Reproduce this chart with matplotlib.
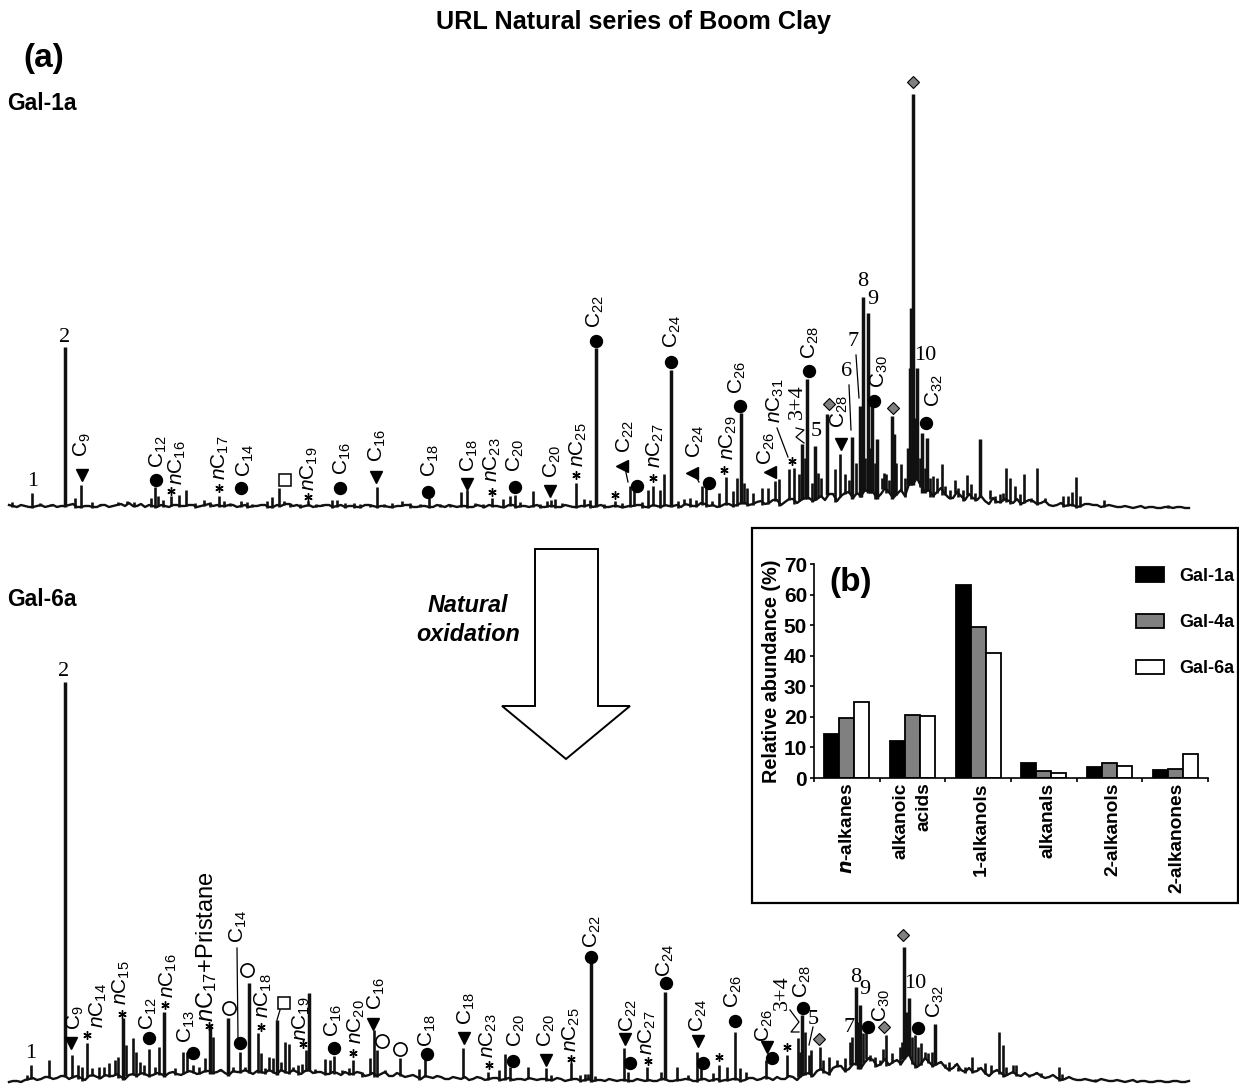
import numpy as np
import matplotlib
matplotlib.use('Agg')
import matplotlib.pyplot as plt
from matplotlib.patches import Polygon

plt.rcParams['font.family'] = ['Liberation Sans', 'DejaVu Sans']
plt.rcParams['mathtext.fontset'] = 'custom'
plt.rcParams['mathtext.rm'] = 'Liberation Sans'
plt.rcParams['mathtext.it'] = 'Liberation Sans:italic'
plt.rcParams['mathtext.bf'] = 'Liberation Sans:bold'

# chromatogram a (Gal-1a): retention position, peak height
peak_x_a = [32, 65, 75, 81, 92, 127, 151, 155, 158, 171, 179, 186, 204, 219, 224, 241, 247, 267, 272, 279,
            284, 308, 316, 332, 337, 354, 370, 377, 402, 429, 461, 467, 492, 503, 510, 515, 533, 547, 551, 555,
            576, 584, 596, 615, 630, 634, 648, 653, 660, 664, 671, 678, 684, 690, 702, 706, 719, 726, 733, 741,
            747, 753, 762, 768, 775, 779, 789, 794, 802, 807, 815, 821, 827, 835, 840, 845, 852, 860, 863, 868,
            872, 877, 886, 892, 894, 901, 910, 913, 917, 922, 927, 937, 942, 955, 967, 971, 980, 1000, 1006, 1010,
            1024, 1031, 1037, 1063, 1068, 1076, 1104, 1168]
peak_y_a = [15, 161, 10, 23, 6, 7, 10, 21, 12, 12, 13, 18, 8, 12, 7, 7, 6, 7, 11, 20,
            7, 7, 4, 8, 8, 5, 4, 21, 7, 10, 16, 18, 10, 9, 12, 13, 17, 7, 8, 9,
            25, 9, 160, 7, 22, 18, 18, 22, 18, 34, 138, 7, 9, 10, 22, 24, 15, 31, 17, 95,
            20, 15, 20, 20, 27, 29, 39, 40, 64, 129, 62, 30, 94, 39, 54, 34, 71, 102, 211, 195,
            104, 69, 34, 92, 74, 44, 140, 414, 140, 75, 70, 30, 44, 28, 33, 24, 69, 14, 40, 30,
            34, 10, 40, 12, 12, 31, 8, 3]
# smaller shoulders and minor peaks of a
small_x_a = [12, 40, 51, 100, 118, 134, 163, 195, 210, 230, 252, 290, 300, 322, 345, 360, 384, 392, 410, 420,
             440, 450, 475, 483, 520, 540, 562, 590, 604, 622, 642, 696, 712, 737, 744, 799,
             805, 812, 818, 849, 856, 861, 865, 870, 875, 882, 884, 889, 896, 905, 908, 911, 915, 920, 925, 930,
             933, 945, 950, 958, 963, 975, 990, 995, 1003, 1015, 1020, 1045, 1072, 1080]
small_y_a = [6, 5, 4, 4, 6, 6, 8, 5, 6, 5, 4, 5, 4, 4, 5, 4, 4, 5, 5, 4,
             4, 3, 5, 4, 6, 4, 5, 8, 4, 5, 6, 8, 7, 30, 25, 34,
             50, 25, 35, 28, 45, 70, 50, 60, 45, 30, 35, 28, 45, 30, 60, 200, 90, 50, 40, 30,
             32, 22, 18, 20, 18, 15, 18, 12, 15, 22, 14, 10, 16, 12]
# noisy baseline of a: readings every 8 positions from 9, and the ones between them from 13
base_y_a = [3, 1, 2, 1, 3, 2, 1, 2, 4, 1,
            2, 1, 3, 2, 4, 5, 2, 1, 2, 3,
            1, 3, 2, 3, 2, 4, 3, 2, 3, 2,
            1, 2, 3, 1, 2, 4, 3, 2, 1, 2,
            3, 2, 1, 2, 1, 3, 1, 2, 1, 2,
            3, 1, 2, 1, 2, 3, 1, 2, 1, 2,
            3, 2, 1, 3, 2, 1, 3, 1, 2, 1,
            2, 1, 2, 1, 3, 1, 2, 1, 2, 3,
            1, 2, 3, 2, 1, 3, 2, 4, 3, 2,
            4, 3, 5, 4, 7, 5, 8, 6, 9, 8,
            10, 9, 8, 14, 12, 16, 15, 18, 16, 14,
            16, 14, 12, 24, 22, 18, 16, 14, 10, 12,
            14, 8, 7, 10, 6, 7, 9, 6, 7, 5,
            3, 3, 2, 3, 2, 4, 3, 2, 2, 1,
            1, 1, 0, 1, 0, 1, 1, 0]
ripple_y_a = [2, 3, 1, 2, 1, 3, 2, 3, 1, 2,
              1, 3, 1, 3, 2, 2, 4, 3, 1, 2,
              3, 2, 3, 1, 3, 2, 2, 3, 1, 3,
              2, 3, 1, 3, 4, 2, 1, 3, 2, 3,
              1, 3, 2, 1, 3, 2, 2, 1, 2, 3,
              1, 2, 1, 3, 1, 2, 2, 1, 3, 1,
              2, 1, 3, 1, 2, 2, 1, 2, 1, 3,
              1, 2, 3, 2, 1, 2, 1, 2, 3, 1,
              3, 1, 2, 3, 4, 2, 5, 2, 1, 4,
              2, 5, 3, 6, 4, 8, 3, 9, 5, 10,
              7, 12, 14, 7, 15, 10, 12, 16, 10, 20,
              10, 18, 24, 30, 16, 12, 20, 10, 16, 8,
              10, 12, 4, 6, 9, 5, 4, 8, 4, 7,
              2, 5, 3, 1, 4, 3, 1, 3, 1, 2,
              0, 2, 1, 0, 1, 0, 1, 0]

# chromatogram b (Gal-6a)
peak_x_b = [27, 31, 49, 65, 72, 78, 87, 99, 109, 115, 123, 126, 133, 136, 144, 149, 159, 164, 183, 187,
            193, 205, 210, 213, 228, 240, 249, 258, 261, 269, 273, 277, 285, 289, 298, 306, 309, 325, 330, 334,
            353, 370, 374, 377, 385, 400, 419, 425, 463, 488, 499, 505, 510, 528, 546, 551, 571, 580, 585, 591,
            624, 628, 647, 661, 665, 677, 688, 697, 701, 713, 719, 727, 735, 740, 746, 766, 787, 798, 802, 809,
            811, 820, 823, 829, 837, 845, 852, 856, 860, 863, 870, 875, 883, 886, 892, 900, 904, 909, 915, 921,
            928, 935, 949, 958, 972, 985, 991, 999, 1003, 1013, 1016, 1029, 1059, 1066, 1095]
peak_y_b = [7, 17, 22, 400, 27, 17, 39, 15, 19, 22, 64, 37, 44, 30, 17, 33, 35, 70, 30, 30,
            17, 24, 58, 45, 64, 30, 99, 49, 29, 25, 24, 62, 40, 38, 17, 32, 89, 23, 22, 26,
            22, 24, 52, 32, 12, 24, 13, 29, 34, 10, 12, 28, 15, 15, 14, 7, 19, 7, 8, 119,
            34, 10, 15, 10, 90, 15, 7, 30, 14, 9, 17, 15, 50, 14, 10, 22, 27, 44, 67, 27,
            32, 35, 22, 25, 22, 24, 45, 95, 77, 49, 27, 25, 33, 47, 29, 35, 135, 84, 47, 39,
            29, 58, 20, 15, 25, 19, 17, 50, 37, 17, 17, 7, 15, 5, 3]
small_x_b = [82, 92, 104, 118, 140, 155, 175, 199, 220, 233, 245, 265, 281, 293, 302, 315, 342, 349, 362, 595,
             588, 800, 805, 850, 858, 866, 880, 895, 902, 906, 912, 918, 925, 932, 941, 945, 955, 965, 978,
             995, 1006, 1036, 1041, 1062]
small_y_b = [15, 14, 15, 25, 20, 15, 14, 15, 13, 15, 15, 14, 20, 15, 18, 13, 12, 14, 10, 6,
             8, 30, 50, 40, 60, 50, 22, 20, 40, 70, 45, 35, 30, 30, 15, 18, 15, 15, 15,
             12, 15, 10, 9, 8]
base_y_b = [0, 1, 2, 4, 3, 5, 4, 6, 5, 4,
            6, 5, 7, 6, 5, 7, 6, 8, 7, 8,
            9, 8, 9, 10, 9, 11, 10, 9, 11, 10,
            10, 11, 9, 10, 12, 9, 10, 11, 9, 10,
            8, 9, 10, 8, 9, 7, 6, 10, 6, 7,
            6, 5, 6, 4, 5, 3, 4, 5, 3, 4,
            3, 4, 3, 2, 3, 4, 2, 3, 2, 3,
            2, 3, 2, 1, 2, 3, 1, 2, 1, 2,
            2, 1, 3, 1, 2, 3, 1, 3, 2, 1,
            2, 3, 2, 4, 3, 4, 5, 3, 5, 6,
            9, 11, 10, 14, 16, 13, 18, 20, 22, 18,
            17, 22, 24, 19, 18, 20, 18, 15, 14, 12,
            14, 11, 9, 10, 9, 8, 7, 9, 7, 6,
            5, 4, 3, 3, 2, 2, 1, 2, 1, 1,
            1, 0, 1, 0, 1, 0, 1, 0]
ripple_y_b = [1, 0, 3, 2, 5, 3, 6, 3, 6, 2,
              7, 4, 6, 8, 3, 8, 9, 6, 9, 6,
              10, 7, 11, 8, 11, 9, 12, 7, 10, 12,
              8, 10, 12, 8, 10, 12, 8, 12, 10, 8,
              10, 7, 8, 10, 6, 9, 8, 6, 9, 5,
              7, 3, 5, 6, 3, 5, 3, 2, 5, 2,
              4, 2, 4, 3, 2, 3, 3, 2, 4, 1,
              3, 1, 3, 2, 1, 2, 2, 1, 3, 1,
              1, 3, 1, 2, 3, 1, 3, 1, 3, 2,
              3, 1, 4, 2, 5, 2, 3, 6, 2, 8,
              6, 13, 8, 16, 11, 18, 14, 24, 16, 23,
              20, 18, 28, 15, 24, 16, 20, 12, 18, 10,
              10, 14, 6, 12, 6, 10, 6, 6, 9, 4,
              7, 2, 5, 2, 3, 1, 3, 1, 2, 0,
              2, 1, 0, 1, 0, 1, 0, 1]

# bar panel b
groups = ['$\\mathbfit{n}$-alkanes', 'alkanoic', '1-alkanols', 'alkanals', '2-alkanols', '2-alkanones']
gal_1a = [14.3, 12.0, 63.2, 5.0, 3.5, 2.6]
gal_4a = [19.7, 20.5, 49.5, 2.2, 4.8, 3.0]
gal_6a = [25.0, 20.2, 41.0, 1.6, 3.8, 7.8]

# compound labels: x, y (picture position), text
sans_labels = [
    (82, 457, 'C$_{9}$'), (158, 468, 'C$_{12}$'), (177, 485, '$\\mathit{n}$C$_{16}$'),
    (220, 480, '$\\mathit{n}$C$_{17}$'), (245, 477, 'C$_{14}$'), (309, 491, '$\\mathit{n}$C$_{19}$'),
    (342, 475, 'C$_{16}$'), (377, 462, 'C$_{16}$'), (430, 477, 'C$_{18}$'), (469, 472, 'C$_{18}$'),
    (492, 482, '$\\mathit{n}$C$_{23}$'), (515, 472, 'C$_{20}$'), (552, 478, 'C$_{20}$'),
    (578, 467, '$\\mathit{n}$C$_{25}$'), (595, 328, 'C$_{22}$'), (625, 453, 'C$_{22}$'),
    (655, 468, '$\\mathit{n}$C$_{27}$'), (672, 348, 'C$_{24}$'), (695, 458, 'C$_{24}$'),
    (728, 460, '$\\mathit{n}$C$_{29}$'), (737, 394, 'C$_{26}$'), (766, 465, 'C$_{26}$'),
    (775, 423, '$\\mathit{n}$C$_{31}$'), (810, 359, 'C$_{28}$'), (839, 428, 'C$_{28}$'),
    (879, 388, 'C$_{30}$'), (934, 407, 'C$_{32}$'),
    (75, 1030, 'C$_{9}$'), (98, 1028, '$\\mathit{n}$C$_{14}$'), (121, 1005, '$\\mathit{n}$C$_{15}$'),
    (148, 1030, 'C$_{12}$'), (168, 998, '$\\mathit{n}$C$_{16}$'), (186, 1043, 'C$_{13}$'),
    (238, 943, 'C$_{14}$'), (263, 1018, '$\\mathit{n}$C$_{18}$'),
    (301, 1041, '$\\mathit{n}$C$_{19}$'), (333, 1037, 'C$_{16}$'), (356, 1044, '$\\mathit{n}$C$_{20}$'),
    (376, 1010, 'C$_{16}$'), (427, 1047, 'C$_{18}$'), (466, 1025, 'C$_{18}$'),
    (488, 1058, '$\\mathit{n}$C$_{23}$'), (516, 1047, 'C$_{20}$'), (546, 1047, 'C$_{20}$'),
    (571, 1052, '$\\mathit{n}$C$_{25}$'), (592, 948, 'C$_{22}$'), (628, 1032, 'C$_{22}$'),
    (647, 1055, '$\\mathit{n}$C$_{27}$'), (665, 977, 'C$_{24}$'), (698, 1032, 'C$_{24}$'),
    (733, 1008, 'C$_{26}$'), (764, 1042, 'C$_{26}$'), (802, 998, 'C$_{28}$'),
    (881, 1022, 'C$_{30}$'), (935, 1018, 'C$_{32}$'),
]
number_labels = [(33, 481, '1'), (65, 337, '2'), (816, 432, '5'), (847, 372, '6'), (853, 341, '7'),
                 (863, 281, '8'), (873, 299, '9'), (925, 355, '10'),
                 (31, 1053, '1'), (64, 672, '2'), (813, 1020, '5'), (849, 1027, '7'),
                 (856, 977, '8'), (865, 990, '9'), (915, 984, '10')]
rot_numbers = [(797, 419, '3+4'), (782, 1010, '3+4')]

circles = [(156, 480), (241, 488), (340, 488), (428, 492), (515, 487), (596, 341), (637, 486), (671, 362),
           (709, 483), (740, 406), (809, 371), (874, 401), (926, 423),
           (149, 1038), (193, 1053), (240, 1043), (334, 1048), (427, 1054), (513, 1061), (591, 957), (630, 1063),
           (666, 983), (703, 1063), (735, 1021), (772, 1058), (803, 1008), (868, 1027), (918, 1028)]
open_circles = [(229, 1008), (247, 970), (382, 1041), (400, 1049)]
tri_down = [(82, 475), (376, 477), (467, 484), (550, 491), (841, 444),
            (71, 1043), (373, 1024), (464, 1038), (546, 1060), (625, 1039), (698, 1041), (767, 1047)]
tri_left = [(622, 466), (692, 473), (770, 472)]
diamonds = [(829, 404), (893, 408), (913, 82), (819, 1039), (884, 1027), (903, 935)]
squares = [(285, 480), (284, 1003)]
stars = [(171, 491), (219, 488), (308, 497), (492, 492), (576, 475), (615, 495), (653, 478), (724, 470),
         (792, 461), (87, 1035), (122, 1014), (165, 1005), (209, 1026), (261, 1027), (303, 1044),
         (353, 1053), (489, 1065), (571, 1059), (648, 1061), (719, 1057), (787, 1047)]
leaders = [[(625, 468), (628, 482)], [(695, 475), (699, 482)], [(777, 428), (788, 457)],
           [(796, 428), (804, 430), (796, 437), (804, 443)], [(849, 385), (851, 430)], [(856, 355), (859, 398)],
           [(237, 948), (238, 1038)], [(280, 1010), (277, 1020)],
           [(790, 1010), (799, 1022), (791, 1032), (799, 1032)], [(813, 1027), (809, 1045)]]
arrow_shape = [(535, 549), (598, 549), (598, 706), (630, 706), (566, 759), (502, 706), (535, 706)]


def chromatogram(box, ylim, px, py, by, ry, sx, sy):
    ax = fig.add_axes(box)
    # every baseline reading in order, main and in-between
    bx = np.ravel(np.column_stack([9 + 8 * np.arange(len(by)), 13 + 8 * np.arange(len(ry))]))
    bv = np.ravel(np.column_stack([by, ry]))
    all_x = np.array(px + sx)
    all_y = np.array(py + sy)
    # each peak stands on the nearest baseline reading
    foot = bv[np.clip(np.searchsorted(bx, all_x), 0, len(bv) - 1)]
    top = np.maximum(all_y, foot)
    ax.plot(bx, bv, color='#111111', lw=1.7)
    widths = np.where(top > 55, 2.5, 1.9)
    ax.vlines(all_x, foot - 1, top, color='#111111', linewidths=widths)
    ax.set_xlim(0, 1239)
    ax.set_ylim(*ylim)
    ax.axis('off')
    return ax


fig = plt.figure(figsize=(12.39, 10.88), dpi=100)
chromatogram([0, 1 - 520 / 1088, 1, 460 / 1088], (-12, 448), peak_x_a, peak_y_a, base_y_a, ripple_y_a,
             small_x_a, small_y_a)
chromatogram([0, 0, 1, 428 / 1088], (-6, 422), peak_x_b, peak_y_b, base_y_b, ripple_y_b,
             small_x_b, small_y_b)

# panel b frame and bars
over = fig.add_axes([0, 0, 1, 1])
over.set_xlim(0, 1239)
over.set_ylim(1088, 0)
over.axis('off')
over.patch.set_alpha(0)
over.add_patch(plt.Rectangle((752, 528), 486, 375, fc='white', ec='black', lw=1.6))
over.add_patch(Polygon(arrow_shape, closed=True, fc='white', ec='black', lw=1.4))

ax = fig.add_axes([814 / 1239, 1 - 778 / 1088, 394 / 1239, 214 / 1088])
ax.patch.set_alpha(0)
x = np.arange(6) + 0.5
w = 0.228
ax.bar(x - w, gal_1a, w, color='black', edgecolor='black', lw=1.3, label='Gal-1a')
ax.bar(x, gal_4a, w, color='#808080', edgecolor='black', lw=1.3, label='Gal-4a')
ax.bar(x + w, gal_6a, w, color='white', edgecolor='black', lw=1.3, label='Gal-6a')
ax.set_xlim(0, 6)
ax.set_ylim(0, 70)
ax.set_xticks(np.arange(7))
ax.set_xticklabels([])
ax.set_yticks(np.arange(0, 71, 10))
ax.tick_params(axis='y', labelsize=15, length=3, width=1.2, pad=2)
ax.tick_params(axis='x', length=3, width=1.2)
for t in ax.get_yticklabels():
    t.set_fontweight('bold')
ax.spines['top'].set_visible(False)
ax.spines['right'].set_visible(False)
ax.spines['left'].set_linewidth(1.2)
ax.spines['bottom'].set_linewidth(1.2)
ax.set_ylabel('Relative abundance (%)', fontsize=14.3, fontweight='bold', labelpad=2)
ax.legend(loc='upper left', bbox_to_anchor=(0.818, 0.985), frameon=False, ncol=1,
          prop={'weight': 'bold', 'size': 13}, handlelength=1.55, handleheight=0.85,
          labelspacing=1.6, handletextpad=0.85, borderpad=0, borderaxespad=0)

label_x = [848, 901, 981, 1048, 1113, 1177]
for lx, name in zip(label_x, groups):
    over.text(lx, 783, name, rotation=90, ha='center', va='top', fontsize=13.8, fontweight='bold')
over.text(924, 782, 'acids', rotation=90, ha='center', va='top', fontsize=13.8, fontweight='bold')
over.text(851, 582, '(b)', ha='center', va='center', fontsize=24, fontweight='bold')

# titles
over.text(634, 22, 'URL Natural series of Boom Clay', ha='center', va='center', fontsize=18.2, fontweight='bold')
over.text(44, 58, '(a)', ha='center', va='center', fontsize=24, fontweight='bold')
over.text(7, 104, 'Gal-1a', ha='left', va='center', fontsize=16.5, fontweight='bold')
over.text(7, 600, 'Gal-6a', ha='left', va='center', fontsize=16.5, fontweight='bold')
over.text(468, 620, 'Natural\noxidation', ha='center', va='center', fontsize=16.8,
          fontweight='bold', fontstyle='italic', linespacing=1.3)

# peak annotations
for lx, ly, s in sans_labels:
    over.text(lx, ly, s, rotation=90, ha='center', va='bottom', fontsize=15)
over.text(207, 1022, '$\\mathit{n}$C$_{17}$+Pristane', rotation=90, ha='center', va='bottom', fontsize=17)
for lx, ly, s in number_labels:
    over.text(lx, ly, s, ha='center', va='center', fontsize=16, family='Liberation Serif')
for lx, ly, s in rot_numbers:
    over.text(lx, ly, s, rotation=90, ha='center', va='bottom', fontsize=16, family='Liberation Serif')
for seg in leaders:
    over.plot([p[0] for p in seg], [p[1] for p in seg], color='black', lw=0.9)

over.plot(*zip(*circles), ls='', marker='o', ms=8.6, color='black')
over.plot(*zip(*open_circles), ls='', marker='o', ms=9.5, mfc='white', mec='black', mew=1.2)
over.plot(*zip(*tri_down), ls='', marker='v', ms=8.5, color='black')
over.plot(*zip(*tri_left), ls='', marker='<', ms=8.5, color='black')
over.plot(*zip(*diamonds), ls='', marker='D', ms=6, mfc='#808080', mec='black', mew=0.8)
over.plot(*zip(*squares), ls='', marker='s', ms=8, mfc='white', mec='black', mew=1.1)
over.plot(*zip(*stars), ls='', marker=(6, 2, 0), ms=6, color='black', mew=1.0)

fig.savefig('out.png', dpi=100)
